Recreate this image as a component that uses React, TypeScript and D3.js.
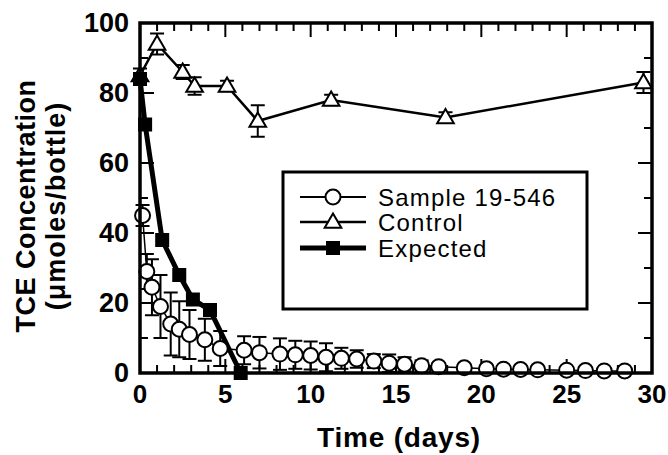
import React from "react";
import * as d3 from "d3";

// ---------- data ----------
const xTickValues = [0, 5, 10, 15, 20, 25, 30];
const yTickValues = [0, 20, 40, 60, 80, 100];

const sampleDays = [0.15, 0.4, 0.7, 1.2, 1.8, 2.3, 2.9, 3.8, 4.7, 6.1, 7.0, 8.2, 9.1, 10.0, 10.9, 11.8, 12.7, 13.7, 14.6, 15.5, 16.5, 17.5, 19.0, 20.3, 21.3, 22.3, 23.3, 25.0, 26.1, 27.2, 28.4];
const sampleConc = [45, 29, 24.5, 19, 14, 12.5, 11, 9.5, 7, 6.5, 5.8, 5.4, 5.2, 5, 4.5, 4.2, 4, 3.4, 2.8, 2.5, 2.1, 1.8, 1.5, 1.2, 1.1, 1, 0.9, 0.8, 0.7, 0.6, 0.6];
const sampleErr = [3, 5, 8, 9, 9, 8, 7, 6, 5, 4, 4.5, 4.5, 4, 4, 4, 3, 2.5, 2, 2.5, 2, 1.5, 1, 0.5, 0.5, 0.5, 0.5, 0.5, 0.8, 0.5, 0.5, 0.5];

const controlDays = [0, 1, 2.5, 3.2, 5.1, 6.9, 11.2, 17.9, 29.5];
const controlConc = [85, 94, 86, 82, 82, 72, 78, 73, 83];
const controlErr = [2, 3, 2, 2.5, 1.5, 4.5, 1.5, 1.5, 3];

const expectedDays = [0, 0.3, 1.3, 2.3, 3.1, 4.1, 5.9];
const expectedConc = [84, 71, 38, 28, 21, 18, 0];

const seriesNames = ["Sample 19-546", "Control", "Expected"];
const xTitle = "Time (days)";
const yTitle1 = "TCE Concentration";
const yTitle2 = "(\u03bcmoles/bottle)";

// ---------- layout ----------
const W = 668;
const H = 455;
const PL = 140;
const PR = 652;
const PT = 23;
const PB = 373;
const FONT = "'Liberation Sans', Arial, Helvetica, sans-serif";

export default function App() {
  const x = d3.scaleLinear().domain([0, 30]).range([PL, PR]);
  const y = d3.scaleLinear().domain([0, 100]).range([PB, PT]);

  const sample = sampleDays.map((d, i) => ({ d, v: sampleConc[i], e: sampleErr[i] }));
  const control = controlDays.map((d, i) => ({ d, v: controlConc[i], e: controlErr[i] }));
  const expected = expectedDays.map((d, i) => ({ d, v: expectedConc[i] }));

  const line = d3
    .line<{ d: number; v: number }>()
    .x((p) => x(p.d))
    .y((p) => y(p.v));

  const tri = d3.symbol().type(d3.symbolTriangle).size(120)() as string;
  const sq = d3.symbol().type(d3.symbolSquare).size(196)() as string;

  const xMinor = d3.range(0, 31, 1);
  const yMinor = d3.range(0, 101, 10);

  const errBar = (p: { d: number; v: number; e: number }, k: string) => {
    const cx = x(p.d);
    const lo = y(Math.max(0, p.v - p.e));
    const hi = y(p.v + p.e);
    return (
      <g key={k} stroke="#000" strokeWidth={2}>
        <line x1={cx} x2={cx} y1={lo} y2={hi} />
        <line x1={cx - 7} x2={cx + 7} y1={hi} y2={hi} />
        <line x1={cx - 7} x2={cx + 7} y1={lo} y2={lo} />
      </g>
    );
  };

  // legend
  const LX0 = 283;
  const LX1 = 587;
  const LY0 = 172;
  const LY1 = 309;
  const legendYs = [197, 222, 248];
  const symX0 = 300;
  const symX1 = 366;
  const symC = 333;
  const textX = 378;

  return (
    <svg width={W} height={H} style={{ position: "absolute", left: 0, top: 0, background: "#fff" }}>
      <rect x={0} y={0} width={W} height={H} fill="#fff" />

      {/* ticks */}
      <g stroke="#000">
        {xMinor.map((t) => {
          const major = t % 5 === 0;
          const len = major ? 14 : 8;
          return (
            <g key={"xt" + t} strokeWidth={2}>
              <line x1={x(t)} x2={x(t)} y1={PB} y2={PB - len} />
              <line x1={x(t)} x2={x(t)} y1={PT} y2={PT + len} />
            </g>
          );
        })}
        {yMinor.map((t) => {
          const major = t % 20 === 0;
          const len = major ? 14 : 8;
          return (
            <g key={"yt" + t} strokeWidth={2}>
              <line x1={PL} x2={PL + len} y1={y(t)} y2={y(t)} />
              <line x1={PR} x2={PR - len} y1={y(t)} y2={y(t)} />
            </g>
          );
        })}
      </g>

      {/* sample series: bars and line */}
      <g>
        {sample.map((p, i) => errBar(p, "se" + i))}
        <path d={line(sample) || ""} fill="none" stroke="#000" strokeWidth={1.5} />
      </g>

      {/* control series */}
      <g>
        {control.map((p, i) => errBar(p, "ce" + i))}
        <path d={line(control) || ""} fill="none" stroke="#000" strokeWidth={2.5} />
        {control.map((p, i) => (
          <path key={"cm" + i} d={tri} transform={`translate(${x(p.d)},${y(p.v) + 1})`} fill="#fff" stroke="#000" strokeWidth={2} />
        ))}
      </g>

      {/* expected line */}
      <path d={line(expected) || ""} fill="none" stroke="#000" strokeWidth={5} />

      {/* sample markers */}
      <g>
        {sample.map((p, i) => (
          <circle key={"sm" + i} cx={x(p.d)} cy={y(p.v)} r={7.5} fill="#fff" stroke="#000" strokeWidth={2} />
        ))}
      </g>

      {/* expected markers */}
      <g>
        {expected.map((p, i) => (
          <path key={"em" + i} d={sq} transform={`translate(${x(p.d)},${y(p.v)})`} fill="#000" />
        ))}
      </g>

      {/* frame */}
      <rect x={PL} y={PT} width={PR - PL} height={PB - PT} fill="none" stroke="#000" strokeWidth={3.5} />

      {/* tick labels */}
      <g fontFamily={FONT} fontWeight="bold" fontSize={27} fill="#000">
        {yTickValues.map((t) => (
          <text key={"yl" + t} x={PL - 11} y={y(t)} textAnchor="end" dominantBaseline="central">
            {t}
          </text>
        ))}
      </g>
      <g fontFamily={FONT} fontWeight="bold" fontSize={26} fill="#000">
        {xTickValues.map((t) => (
          <text key={"xl" + t} x={x(t)} y={PB + 21} textAnchor="middle" dominantBaseline="central">
            {t}
          </text>
        ))}
      </g>

      {/* axis titles */}
      <g fontFamily={FONT} fontWeight="bold" fill="#000">
        <text x={(PL + PR) / 2 + 3} y={437} textAnchor="middle" dominantBaseline="central" fontSize={28} letterSpacing={0.8}>
          {xTitle}
        </text>
        <text transform={`translate(26,206) rotate(-90)`} textAnchor="middle" dominantBaseline="central" fontSize={27} letterSpacing={0.5}>
          {yTitle1}
        </text>
        <text transform={`translate(56,206) rotate(-90)`} textAnchor="middle" dominantBaseline="central" fontSize={27} letterSpacing={1}>
          {yTitle2}
        </text>
      </g>

      {/* legend */}
      <g>
        <rect x={LX0} y={LY0} width={LX1 - LX0} height={LY1 - LY0} fill="#fff" stroke="#000" strokeWidth={3} />
        <line x1={symX0} x2={symX1} y1={legendYs[0]} y2={legendYs[0]} stroke="#000" strokeWidth={2} />
        <circle cx={symC} cy={legendYs[0]} r={7.5} fill="#fff" stroke="#000" strokeWidth={2} />
        <line x1={symX0} x2={symX1} y1={legendYs[1]} y2={legendYs[1]} stroke="#000" strokeWidth={2.5} />
        <path d={tri} transform={`translate(${symC},${legendYs[1] + 1})`} fill="#fff" stroke="#000" strokeWidth={2} />
        <line x1={symX0} x2={symX1} y1={legendYs[2]} y2={legendYs[2]} stroke="#000" strokeWidth={5} />
        <path d={sq} transform={`translate(${symC},${legendYs[2]})`} fill="#000" />
        <g fontFamily={FONT} fontSize={24} fill="#000" letterSpacing={1.2}>
          {seriesNames.map((n, i) => (
            <text key={n} x={textX} y={legendYs[i]} dominantBaseline="central">
              {n}
            </text>
          ))}
        </g>
      </g>
    </svg>
  );
}
